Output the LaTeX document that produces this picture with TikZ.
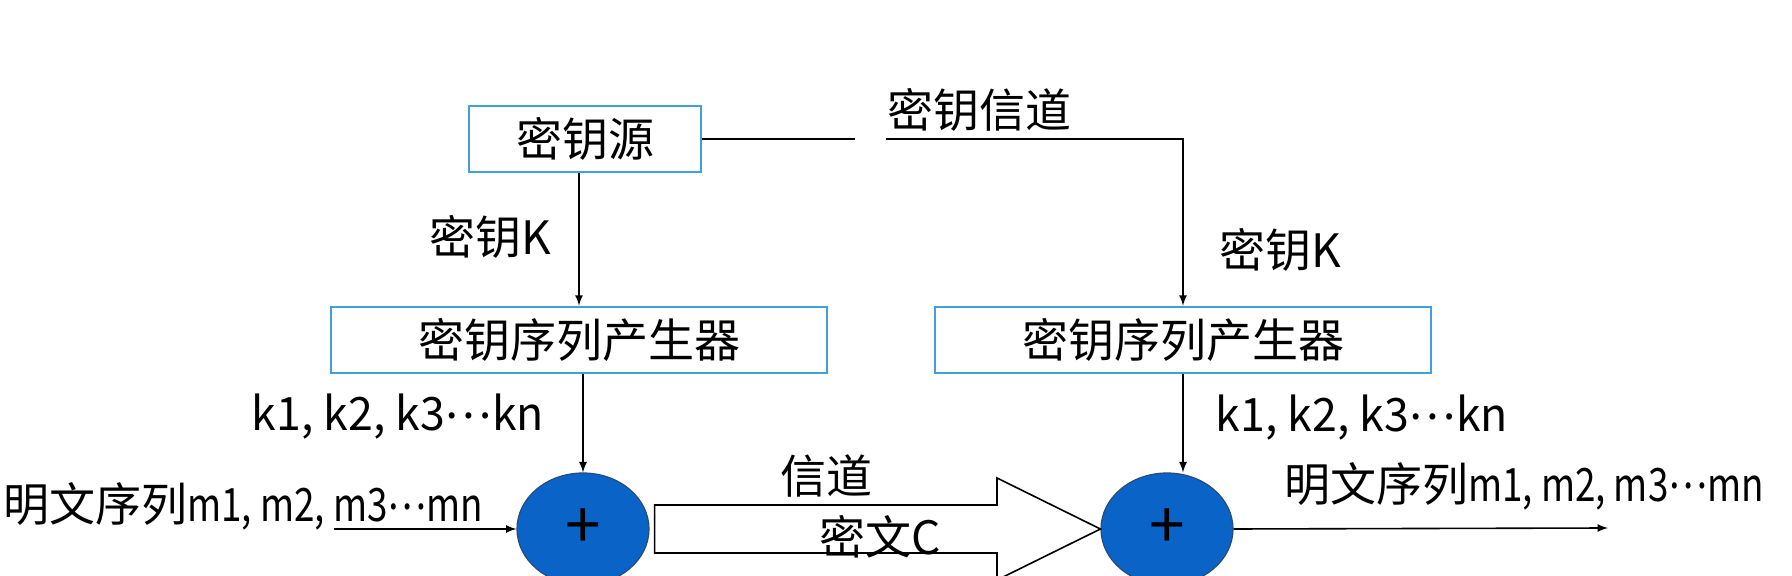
\documentclass[tikz,border=0pt]{standalone}
\usepackage{fontspec}
\usepackage{graphicx}
\setmainfont{Noto Sans CJK SC}
\usetikzlibrary{calc}
\usetikzlibrary{shapes.geometric}

\definecolor{boxblue}{RGB}{65,160,220}
\definecolor{xorblue}{RGB}{10,100,200}
\definecolor{xorrim}{RGB}{40,75,120}

\newcommand{\narrowtxt}[1]{\scalebox{.8}[1]{#1}}
\newcommand{\middots}{\raisebox{.28em}{…}}

\tikzset{
  keybox/.style={draw=boxblue,line width=1.3pt,minimum height=33pt,inner sep=0pt},
  xorop/.style={ellipse,draw=xorrim,fill=xorblue,line width=.6pt,minimum width=66pt,minimum height=56pt,inner sep=0pt},
  lbl/.style={inner sep=0pt},
  wire/.style={line width=.8pt,->}
}

\begin{document}
\begin{tikzpicture}[x=.5pt,y=-.5pt,>=latex,font=\fontsize{23}{27}\selectfont]
\useasboundingbox (0,0) rectangle (1792,576);

\node[keybox,minimum width=116pt] (src) at (585,139) {密钥源}; % key source
\node[keybox,minimum width=248pt] (genL) at (579,340) {密钥序列产生器}; % sender generator
\node[keybox,minimum width=248pt] (genR) at (1183,340) {密钥序列产生器}; % receiver generator
\node[xorop] (xorL) at (583,529) {}; % encrypt
\node[xorop] (xorR) at (1167,529) {}; % decrypt
\node[lbl,font=\fontsize{32}{32}\selectfont] at (xorL) {+};
\node[lbl,font=\fontsize{32}{32}\selectfont] at (xorR) {+};

% key channel
\coordinate (gapA) at (855,139);
\coordinate (gapB) at (886,139);
\node[lbl] (kch) at (979,110) {密钥信道};
\draw[line width=.8pt] (src.east) -- (gapA);
\draw[wire] (gapB) -| (genR.north);
\node[lbl] (keyR) at (1280,250) {密钥K};

% sender side
\draw[wire] (genL.north |- src.south) -- (genL.north);
\node[lbl] (keyL) at (490,237) {密钥K};
\draw[wire] (xorL.north |- genL.south) -- (xorL.north);
\node[lbl] (seqL) at (398,417) {\scalebox{.97}[1]{k1, k2, k3\middots kn}};
\coordinate (inL) at (334,529);
\node[lbl,anchor=base west] (plainL) at (3,522) {明文序列\narrowtxt{m1, m2, m3\middots mn}};
\draw[wire] (inL) -- (xorL.west);

% channel (hollow arrow)
\draw[line width=.8pt,fill=white] ($(xorL.east)+(5,-24)$) -- (997,505) -- (997,478)
  -- (xorR.west) -- (997,580) -- (997,553) -- ($(xorL.east)+(5,24)$) -- cycle;
\node[lbl] (chan) at (826,476) {信道};
\node[lbl] (ciph) at (880,537) {密文C};

% receiver side
\draw[wire] (genR.south) -- (genR.south |- xorR.north);
\node[lbl] (seqR) at (1362,418) {\scalebox{.97}[1]{k1, k2, k3\middots kn}};
\coordinate (outR) at (1608,528);
\draw[wire] (xorR.east) -- (outR);
\node[lbl] (plainR) at (1524,486) {明文序列\narrowtxt{m1, m2, m3\middots mn}};

\end{tikzpicture}
\end{document}
